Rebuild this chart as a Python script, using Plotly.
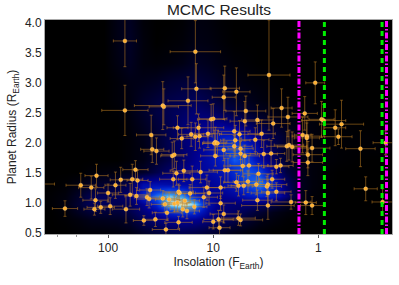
import numpy as np
import plotly.graph_objects as go

# log10 insolation, radius, log10 insolation error, radius error
log_f = [2.67,2.41,2.26,2.16,2.11,2.12,2.13,2.07,2.00,1.98,1.93,1.88,1.83,1.79,1.77,1.74,1.73,1.72,1.66,1.63,1.61,1.60,1.58,1.54,1.55,1.45,1.44,1.46,1.48,1.42,1.37,1.34,1.33,1.29,1.25,1.18,1.27,1.22,1.32,1.33,1.38,1.35,1.28,1.20,1.39,1.37,1.12,1.06,.93,1.04,1.09,.93,.90,1.00,.95,.94,.76,.74,.89,.86,.72,.66,.57,.40,.36,.44,.67,.78,.76,.71,.59,.48,.49,.48,.40,.58,.48,.26,.12,.06,
         .74,.74,.70,.80,.90,.98,.98,.99,.96,1.05,1.13,1.17,1.21,1.30,1.34,1.14,1.02,1.00,.80,.79,.75,.60,.54,.69,.70,.58,.43,.35,.29,.13,-.03,-.05,-.16,-.22,-.19,.15,.11,.11,.30,.28,.25,.06,.10,.10,.52,.45,.47,.03,.89,.78,.90,1.16,1.24,1.48,1.47,1.84,1.17,1.84,1.59,-.64,-.40,-.45,-.61]
radius = [1.31,.90,1.29,1.25,1.45,1.04,.89,.92,1.16,.94,1.29,1.38,.89,1.13,1.39,1.55,1.11,1.37,.70,1.09,1.06,1.21,1.89,1.86,.72,.55,.83,.97,1.07,1.05,.98,1.00,.67,.89,.86,.93,1.03,1.15,1.16,1.18,1.39,1.49,1.53,1.39,1.78,1.80,1.51,1.25,1.25,1.16,1.09,.99,.81,.68,.72,.58,.74,.71,1.54,1.54,1.61,1.62,1.48,1.60,1.62,1.39,1.35,1.34,1.28,1.28,1.30,1.30,1.27,1.16,1.18,1.04,.95,1.01,1.00,.95,
          1.90,1.82,1.78,1.94,1.88,1.78,2.01,1.99,1.99,2.15,2.11,2.10,2.14,2.07,2.25,2.25,2.39,2.40,2.19,2.04,2.14,2.05,2.15,2.53,2.36,2.38,2.32,2.58,2.43,2.49,2.39,2.37,2.25,2.31,2.10,2.13,2.11,2.08,1.94,1.96,1.93,1.91,1.80,1.67,1.81,1.82,3.13,3.00,2.91,2.85,2.76,2.90,2.70,2.62,2.60,3.70,3.52,2.54,2.13,2.00,1.90,1.23,1.01]
log_f_err = [.16,.12,.14,.12,.11,.12,.10,.13,.10,.12,.10,.10,.13,.17,.10,.12,.11,.10,.10,.12,.12,.10,.11,.12,.12,.13,.14,.13,.13,.13,.12,.11,.13,.12,.12,.12,.14,.14,.13,.14,.13,.13,.13,.13,.11,.12,.16,.17,.14,.13,.13,.14,.13,.10,.14,.10,.16,.21,.15,.14,.18,.18,.14,.12,.12,.12,.14,.12,.10,.12,.14,.18,.14,.16,.14,.14,.25,.19,.10,.11,
             .12,.14,.14,.17,.19,.14,.11,.11,.14,.13,.12,.12,.12,.11,.10,.24,.13,.13,.15,.14,.19,.13,.13,.19,.14,.15,.16,.10,.19,.12,.12,.21,.10,.21,.13,.08,.14,.12,.19,.14,.14,.17,.14,.14,.13,.13,.20,.09,.14,.13,.11,.14,.19,.27,.14,.11,.24,.22,.14,.12,.14,.11,.10]
radius_err = [.17,.13,.20,.19,.19,.19,.10,.10,.15,.14,.22,.21,.23,.19,.25,.15,.14,.17,.08,.14,.15,.14,.22,.22,.12,.10,.13,.13,.13,.12,.13,.15,.10,.13,.13,.12,.12,.15,.13,.13,.13,.20,.18,.22,.23,.23,.18,.21,.18,.20,.17,.12,.15,.12,.15,.12,.12,.10,.20,.20,.17,.17,.17,.12,.12,.15,.18,.15,.17,.15,.17,.17,.17,.22,.15,.17,.23,.12,.20,.15,
              .18,.20,.18,.18,.18,.17,.25,.22,.22,.23,.20,.23,.20,.17,.20,.23,.25,.25,.33,.25,.23,.20,.23,.25,.33,.25,.25,.32,.33,.28,.30,.27,.30,.40,.13,.30,.27,.25,.25,.25,.25,.23,.22,.22,.23,.22,.92,.35,.37,.40,.37,.42,.40,.40,.30,.43,.52,.42,.33,.20,.30,.20,.22]

magenta_lines = [1.53, 0.225]
green_lines = [0.877, 0.248]

# density map
map_log_f = [2.54,2.41,2.29,2.16,2.04,1.92,1.79,1.67,1.54,1.42,1.30,1.17,1.05,.93,.80,.68,.56,.43,.31,.18,.06,-.06,-.19,-.44,-.68]
map_radius = [4.01,3.68,3.34,3.01,2.71,2.51,2.31,2.11,1.91,1.71,1.51,1.31,1.11,.97,.84,.71,.51]
map_z = [
 [0,0,0,0,0,.05,.08,.02,0,0,.01,.04,.03,.01,0,0,0,0,0,0,0,0,0,0,0],
 [0,0,0,0,0,.05,.09,.03,0,.01,.02,.05,.04,.02,0,0,0,0,0,0,0,0,0,0,0],
 [0,0,0,0,0,.04,.08,.03,.02,.03,.05,.09,.07,.04,.02,.01,0,0,0,0,0,0,0,0,0],
 [0,0,0,0,0,.02,.05,.06,.08,.12,.14,.15,.12,.08,.05,.03,.02,.01,0,0,0,0,0,0,0],
 [0,0,0,0,0,.02,.04,.10,.14,.18,.20,.22,.18,.13,.10,.07,.04,.02,.01,.01,.01,0,0,0,0],
 [0,0,0,0,0,.01,.04,.10,.16,.20,.24,.28,.25,.20,.16,.12,.08,.05,.03,.02,.02,.01,0,0,0],
 [0,0,0,0,0,0,.03,.08,.14,.20,.27,.32,.34,.35,.30,.24,.16,.10,.06,.04,.03,.01,.01,0,0],
 [0,0,0,0,0,0,.02,.06,.12,.20,.28,.35,.42,.50,.52,.42,.30,.18,.10,.05,.03,.02,.01,.01,0],
 [0,0,0,0,0,0,.02,.05,.12,.20,.26,.33,.42,.55,.66,.55,.36,.20,.10,.05,.03,.02,.01,.01,.01],
 [0,0,0,0,0,0,.02,.05,.12,.18,.26,.35,.42,.52,.68,.62,.42,.25,.12,.05,.03,.02,.01,0,0],
 [0,0,0,.02,.03,.04,.06,.10,.18,.26,.32,.38,.40,.46,.56,.68,.62,.38,.16,.07,.03,.01,0,0,0],
 [0,.01,.04,.10,.12,.14,.20,.42,.44,.42,.40,.40,.36,.40,.50,.66,.75,.55,.25,.08,.03,.01,0,0,0],
 [.01,.03,.10,.20,.22,.22,.28,.55,.72,.86,.78,.55,.38,.34,.38,.48,.55,.50,.30,.08,.02,.01,0,0,0],
 [.01,.04,.12,.22,.22,.20,.22,.36,.55,.90,1.0,.85,.45,.30,.28,.28,.25,.18,.10,.04,.02,0,0,0,0],
 [0,.02,.08,.14,.14,.14,.18,.28,.38,.55,.62,.58,.38,.28,.25,.18,.12,.06,.03,.01,0,0,0,0,0],
 [0,.01,.03,.06,.07,.08,.12,.22,.28,.34,.36,.34,.30,.24,.18,.12,.06,.03,.01,0,0,0,0,0,0],
 [0,0,.01,.02,.02,.03,.05,.10,.14,.18,.20,.18,.14,.10,.06,.03,.01,0,0,0,0,0,0,0,0],
]

map_x = [10 ** v for v in map_log_f]
insol = 10 ** np.array(log_f)
err_plus = 10 ** (np.array(log_f) + np.array(log_f_err)) - insol
err_minus = insol - 10 ** (np.array(log_f) - np.array(log_f_err))

y_range = [0.475, 4.05]
fig = go.Figure()
fig.add_trace(go.Heatmap(
    x=map_x, y=map_radius, z=map_z, zmin=0, zmax=1, zsmooth="best", showscale=False,
    hoverinfo="skip",
    colorscale=[[0, "#000000"], [.15, "#00003c"], [.35, "#000090"], [.5, "#0018c0"],
                [.65, "#0a46e6"], [.8, "#3ca0f0"], [.9, "#a8dce0"], [1, "#f0e6aa"]]))
fig.add_trace(go.Scatter(
    x=insol, y=radius, mode="markers",
    marker=dict(size=4, color="#ffb030", line=dict(width=.4, color="rgba(255,225,170,.8)")),
    error_x=dict(type="data", symmetric=False, array=err_plus, arrayminus=err_minus,
                 color="rgba(190,125,35,.55)", thickness=1, width=1.5),
    error_y=dict(type="data", array=radius_err, color="rgba(190,125,35,.55)", thickness=1, width=1.5),
))
for v in magenta_lines:
    fig.add_trace(go.Scatter(x=[v, v], y=y_range, mode="lines",
                             line=dict(color="#ff00ff", width=3, dash="6px,2px,1.5px,2px")))
for v in green_lines:
    fig.add_trace(go.Scatter(x=[v, v], y=y_range, mode="lines",
                             line=dict(color="#00ee00", width=3, dash="5px,4px")))

grid = "rgba(255,255,255,.12)"
fig.update_layout(
    width=399, height=285, autosize=False, showlegend=False,
    margin=dict(l=45, r=7, t=19.5, b=51, autoexpand=False),
    paper_bgcolor="white", plot_bgcolor="black",
    font=dict(family="Liberation Sans, Arial, sans-serif", color="#222", size=11),
    title=dict(text="MCMC Results", x=219 / 399, xanchor="center", y=0.965, yanchor="middle",
               font=dict(size=15.5, color="#222")),
)
fig.update_xaxes(type="log", range=[2.6, -0.7], autorange=False, automargin=True,
                 tickvals=[100, 10, 1], ticktext=["100", "10", "1"],
                 ticks="outside", ticklen=3, tickcolor="#555", tickfont=dict(size=12),
                 showgrid=True, gridcolor=grid, zeroline=False,
                 minor=dict(ticks="outside", ticklen=2, tickcolor="#999", showgrid=True, gridcolor=grid),
                 title=dict(text="Insolation (F<sub>Earth</sub>)", font=dict(size=12), standoff=1),
                 showline=True, linecolor="#aaa", linewidth=1, mirror=True)
fig.update_yaxes(range=y_range, autorange=False, automargin=True, tick0=0.5, dtick=0.5, tickformat=".1f",
                 ticks="", showgrid=False, zeroline=False, tickfont=dict(size=12),
                 minor=dict(tick0=0.3, dtick=0.4, showgrid=True, gridcolor=grid),
                 title=dict(text="Planet Radius (R<sub>Earth</sub>)", font=dict(size=12), standoff=5),
                 showline=True, linecolor="#aaa", linewidth=1, mirror=True)
fig.write_html("out.html", config=dict(displayModeBar=False),
               post_script="document.body.style.margin='0';document.body.style.overflow='hidden';")
